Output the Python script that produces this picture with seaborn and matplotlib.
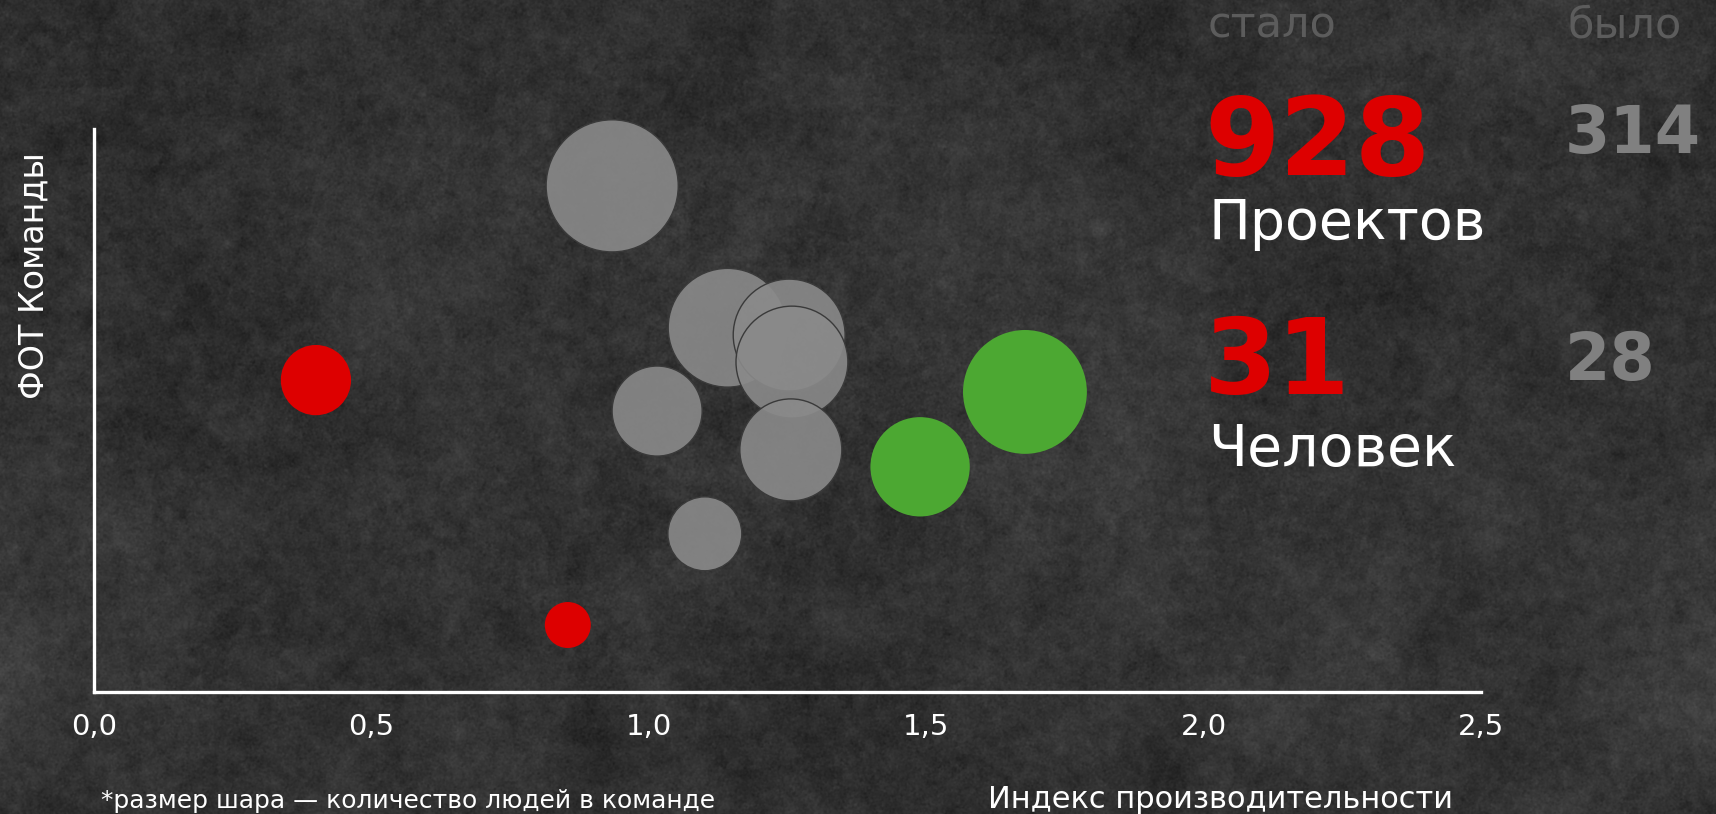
import numpy as np
import pandas as pd
import matplotlib
matplotlib.use("Agg")
import matplotlib.pyplot as plt
import seaborn as sns

# --- data -------------------------------------------------------------
productivity = [0.400, 0.854, 0.934, 1.015, 1.101, 1.142, 1.253, 1.258, 1.256, 1.489, 1.678]
payroll = [55.4, 11.9, 89.9, 49.9, 28.1, 64.7, 63.4, 58.6, 43.0, 40.0, 53.3]
people = [2.8, 1.2, 9.9, 4.6, 3.1, 8.0, 7.1, 7.1, 5.9, 5.6, 8.7]
status = ["down", "down", "same", "same", "same", "same", "same", "same", "same", "up", "up"]

x_ticks = [0.0, 0.5, 1.0, 1.5, 2.0, 2.5]
x_tick_labels = ["0,0", "0,5", "1,0", "1,5", "2,0", "2,5"]

projects_now, projects_before = "928", "314"
staff_now, staff_before = "31", "28"

palette = {"down": "#dd0000", "same": "#8a8a8a", "up": "#4ca832"}
edges = {"down": "none", "same": "#3a3a3a", "up": "none"}

df = pd.DataFrame({"productivity": productivity, "payroll": payroll,
                   "people": people, "status": status})

# --- figure -----------------------------------------------------------
W, H = 1716, 814
fig = plt.figure(figsize=(W / 100, H / 100), dpi=100)

# concrete-like backdrop
rng = np.random.default_rng(11)


def smooth_noise(scale):
    n = rng.standard_normal((H, W))
    fy = np.fft.fftfreq(H)[:, None]
    fx = np.fft.rfftfreq(W)[None, :]
    g = np.exp(-2 * (np.pi * scale) ** 2 * (fx ** 2 + fy ** 2))
    out = np.fft.irfft2(np.fft.rfft2(n) * g, s=(H, W))
    return out / out.std()


tex = (0.195 + 0.010 * smooth_noise(90) + 0.010 * smooth_noise(20)
       + 0.010 * smooth_noise(4) + 0.012 * smooth_noise(0.8))
bg = fig.add_axes([0, 0, 1, 1], zorder=0)
bg.imshow(np.clip(tex, 0, 1), cmap="gray", vmin=0, vmax=1, aspect="auto",
          interpolation="bilinear")
bg.axis("off")

# plot area
L, R, T, B = 94, 1481, 129, 692
ax = fig.add_axes([L / W, 1 - B / H, (R - L) / W, (B - T) / H], zorder=1)
ax.set_facecolor("none")

K = 914  # marker area (pt^2) per person
sns.scatterplot(data=df, x="productivity", y="payroll", hue="status",
                palette=palette, size="people", sizes=(0, 10 * K),
                size_norm=(0, 10), legend=False, ax=ax,
                edgecolor=[edges[s] for s in status], linewidth=1.0)

coll = ax.collections[0]
coll.set_clip_on(False)
fc = coll.get_facecolors()
for i, s in enumerate(status):
    if s == "same":
        fc[i, 3] = 0.9
coll.set_facecolors(fc)

ax.set_xlim(0, 2.5)
ax.set_ylim(0, 100)
ax.set_xticks(x_ticks)
ax.set_xticklabels(x_tick_labels)
ax.set_yticks([])
ax.tick_params(axis="x", length=0, pad=15, labelsize=21, labelcolor="white")
ax.set_xlabel("")
ax.set_ylabel("")
for side in ("top", "right"):
    ax.spines[side].set_visible(False)
for side in ("left", "bottom"):
    ax.spines[side].set_color("white")
    ax.spines[side].set_linewidth(2.4)


def ftext(px, py, s, **kw):
    fig.text(px / W, 1 - py / H, s, **kw)


# axis captions
ftext(34, 276, "ФОТ Команды", rotation=90, ha="center", va="center",
      color="white", fontsize=24)
ftext(1220, 808, "Индекс производительности", ha="center", va="baseline",
      color="white", fontsize=22)
ftext(101, 808, "*размер шара — количество людей в команде", ha="left",
      va="baseline", color="white", fontsize=18)

# summary block
ftext(1208, 38, "стало", ha="left", va="baseline", color="#5c5c5c", fontsize=31)
ftext(1567, 38, "было", ha="left", va="baseline", color="#5c5c5c", fontsize=31)
ftext(1204, 175, projects_now, ha="left", va="baseline", color="#dd0000",
      fontsize=78, fontweight="bold")
ftext(1565, 153, projects_before, ha="left", va="baseline", color="#808080",
      fontsize=47, fontweight="bold")
ftext(1208, 239, "Проектов", ha="left", va="baseline", color="white", fontsize=40)
ftext(1204, 394, staff_now, ha="left", va="baseline", color="#dd0000",
      fontsize=76, fontweight="bold")
ftext(1565, 380, staff_before, ha="left", va="baseline", color="#808080",
      fontsize=47, fontweight="bold")
ftext(1208, 466, "Человек", ha="left", va="baseline", color="white", fontsize=41)

fig.savefig("out.png", dpi=100)
